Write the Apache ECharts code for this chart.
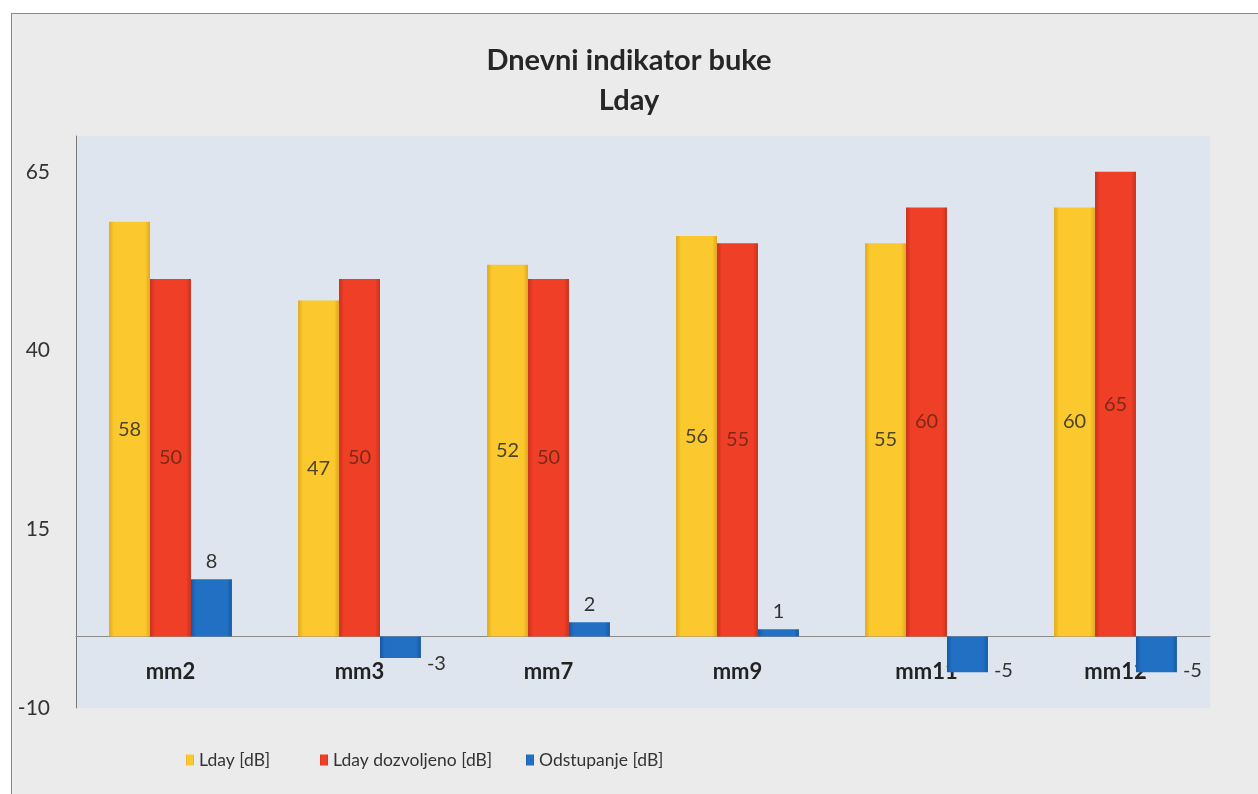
<!DOCTYPE html>
<html>
<head>
<meta charset="utf-8">
<script src="https://cdn.jsdelivr.net/npm/echarts@6/dist/echarts.min.js"></script>
<style>
html,body{margin:0;padding:0;background:#ffffff;}
#frame{position:absolute;left:11px;top:13px;width:1260px;height:800px;border-left:1px solid #8a8a8a;border-top:1px solid #8a8a8a;background:#ebebeb;}
#chart{position:absolute;left:0;top:0;width:1258px;height:794px;}
</style>
</head>
<body>
<div id="frame"></div>
<div id="chart"></div>
<script>
const categories = ['mm2', 'mm3', 'mm7', 'mm9', 'mm11', 'mm12'];
const lday = [58, 47, 52, 56, 55, 60];
const ldayAllowed = [50, 50, 50, 55, 60, 65];
const deviation = [8, -3, 2, 1, -5, -5];
const yTicks = { min: -10, max: 70, interval: 25 };
const seriesNames = ['Lday [dB]', 'Lday dozvoljeno [dB]', 'Odstupanje [dB]'];

const FONT = 'Lato';
const legendLefts = [181, 315, 521];

function grad(edge, mid) {
  return new echarts.graphic.LinearGradient(0, 0, 1, 0, [
    { offset: 0, color: edge },
    { offset: 0.12, color: mid },
    { offset: 0.88, color: mid },
    { offset: 1, color: edge }
  ]);
}

const chart = echarts.init(document.getElementById('chart'), null, { renderer: 'canvas' });

chart.setOption({
  backgroundColor: 'transparent',
  animation: false,
  title: {
    text: 'Dnevni indikator buke\nLday',
    left: 'center',
    top: 36,
    textStyle: { fontFamily: FONT, fontWeight: 'bold', fontSize: 29, lineHeight: 40, color: '#262626' }
  },
  legend: seriesNames.map((n, i) => ({
    left: legendLefts[i],
    top: 746,
    itemWidth: 8,
    itemHeight: 11,
    icon: 'rect',
    textStyle: { fontFamily: FONT, fontSize: 17.5, color: '#333' },
    data: [n]
  })),
  grid: {
    left: 76, right: 48, top: 136, bottom: 86,
    show: true, backgroundColor: '#dfe5ef', borderWidth: 0
  },
  xAxis: {
    type: 'category',
    data: categories,
    axisLine: { onZero: true, lineStyle: { color: '#8c8c8c', width: 1 } },
    axisTick: { show: false },
    axisLabel: { fontFamily: FONT, fontWeight: 'bold', fontSize: 22, color: '#222', margin: -47 }
  },
  yAxis: {
    type: 'value',
    min: yTicks.min, max: yTicks.max, interval: yTicks.interval,
    axisLine: { show: true, lineStyle: { color: '#7a7a7a', width: 1 } },
    axisTick: { show: false },
    splitLine: { show: false },
    axisLabel: { fontFamily: FONT, fontSize: 21, color: '#333', margin: 26, showMaxLabel: false }
  },
  series: [
    {
      name: seriesNames[0], type: 'bar', data: lday,
      barGap: '0%', barCategoryGap: '35%', z: 3,
      itemStyle: { color: grad('#e2a81a', '#fbc92e') },
      label: { show: true, position: 'inside', fontFamily: FONT, fontSize: 20, color: '#4d4420' }
    },
    {
      name: seriesNames[1], type: 'bar', data: ldayAllowed, z: 3,
      itemStyle: { color: grad('#c8301c', '#f03f27') },
      label: { show: true, position: 'inside', fontFamily: FONT, fontSize: 20, color: '#7d2a18' }
    },
    {
      name: seriesNames[2], type: 'bar', z: 3,
      data: deviation.map(v => ({
        value: v,
        label: v >= 0 ? { position: 'top', distance: 8 } : { position: 'right', distance: 6, offset: [0, 16] }
      })),
      itemStyle: { color: grad('#1558a6', '#2270c4') },
      label: { show: true, fontFamily: FONT, fontSize: 20, color: '#333' }
    }
  ]
});
</script>
</body>
</html>
